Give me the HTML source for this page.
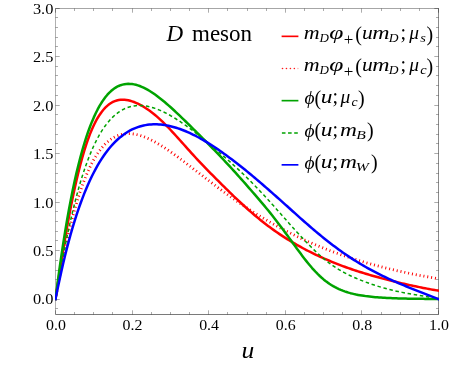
<!DOCTYPE html>
<html><head><meta charset="utf-8"><title>D meson</title>
<style>
html,body{margin:0;padding:0;background:#fff;}
body{width:449px;height:367px;overflow:hidden;font-family:"Liberation Serif",serif;}
svg{display:block;will-change:transform;}
text{font-family:"Liberation Serif",serif;fill:#000;}
.tl{font-size:15.3px;}
.mi{font-size:18px;font-style:italic;}
.ms{font-size:12.5px;font-style:italic;}
.md{font-size:13px;font-style:italic;}
.rm{font-size:20px;}
.rp{font-size:17px;}
.rs{font-size:12px;}
.ti{font-size:23px;font-style:italic;}
.tr{font-size:23px;}
</style></head><body>
<svg width="449" height="367" viewBox="0 0 449 367">
<defs><clipPath id="cp"><rect x="55.0" y="8.5" width="384.0" height="306.0"/></clipPath></defs>
<g stroke="#000" stroke-opacity="0.47" stroke-width="0.7" fill="none">
<line x1="55.50" y1="314.5" x2="55.50" y2="310.3"/>
<line x1="55.50" y1="8.5" x2="55.50" y2="12.7"/>
<line x1="74.50" y1="314.5" x2="74.50" y2="312.0"/>
<line x1="74.50" y1="8.5" x2="74.50" y2="11.0"/>
<line x1="93.50" y1="314.5" x2="93.50" y2="312.0"/>
<line x1="93.50" y1="8.5" x2="93.50" y2="11.0"/>
<line x1="112.50" y1="314.5" x2="112.50" y2="312.0"/>
<line x1="112.50" y1="8.5" x2="112.50" y2="11.0"/>
<line x1="132.50" y1="314.5" x2="132.50" y2="310.3"/>
<line x1="132.50" y1="8.5" x2="132.50" y2="12.7"/>
<line x1="151.50" y1="314.5" x2="151.50" y2="312.0"/>
<line x1="151.50" y1="8.5" x2="151.50" y2="11.0"/>
<line x1="170.50" y1="314.5" x2="170.50" y2="312.0"/>
<line x1="170.50" y1="8.5" x2="170.50" y2="11.0"/>
<line x1="189.50" y1="314.5" x2="189.50" y2="312.0"/>
<line x1="189.50" y1="8.5" x2="189.50" y2="11.0"/>
<line x1="208.50" y1="314.5" x2="208.50" y2="310.3"/>
<line x1="208.50" y1="8.5" x2="208.50" y2="12.7"/>
<line x1="227.50" y1="314.5" x2="227.50" y2="312.0"/>
<line x1="227.50" y1="8.5" x2="227.50" y2="11.0"/>
<line x1="247.50" y1="314.5" x2="247.50" y2="312.0"/>
<line x1="247.50" y1="8.5" x2="247.50" y2="11.0"/>
<line x1="266.50" y1="314.5" x2="266.50" y2="312.0"/>
<line x1="266.50" y1="8.5" x2="266.50" y2="11.0"/>
<line x1="285.50" y1="314.5" x2="285.50" y2="310.3"/>
<line x1="285.50" y1="8.5" x2="285.50" y2="12.7"/>
<line x1="304.50" y1="314.5" x2="304.50" y2="312.0"/>
<line x1="304.50" y1="8.5" x2="304.50" y2="11.0"/>
<line x1="323.50" y1="314.5" x2="323.50" y2="312.0"/>
<line x1="323.50" y1="8.5" x2="323.50" y2="11.0"/>
<line x1="342.50" y1="314.5" x2="342.50" y2="312.0"/>
<line x1="342.50" y1="8.5" x2="342.50" y2="11.0"/>
<line x1="361.50" y1="314.5" x2="361.50" y2="310.3"/>
<line x1="361.50" y1="8.5" x2="361.50" y2="12.7"/>
<line x1="381.50" y1="314.5" x2="381.50" y2="312.0"/>
<line x1="381.50" y1="8.5" x2="381.50" y2="11.0"/>
<line x1="400.50" y1="314.5" x2="400.50" y2="312.0"/>
<line x1="400.50" y1="8.5" x2="400.50" y2="11.0"/>
<line x1="419.50" y1="314.5" x2="419.50" y2="312.0"/>
<line x1="419.50" y1="8.5" x2="419.50" y2="11.0"/>
<line x1="438.50" y1="314.5" x2="438.50" y2="310.3"/>
<line x1="438.50" y1="8.5" x2="438.50" y2="12.7"/>
<line x1="55.5" y1="308.50" x2="58.0" y2="308.50"/>
<line x1="438.5" y1="308.50" x2="436.0" y2="308.50"/>
<line x1="55.5" y1="299.50" x2="59.7" y2="299.50"/>
<line x1="438.5" y1="299.50" x2="434.3" y2="299.50"/>
<line x1="55.5" y1="289.50" x2="58.0" y2="289.50"/>
<line x1="438.5" y1="289.50" x2="436.0" y2="289.50"/>
<line x1="55.5" y1="279.50" x2="58.0" y2="279.50"/>
<line x1="438.5" y1="279.50" x2="436.0" y2="279.50"/>
<line x1="55.5" y1="270.50" x2="58.0" y2="270.50"/>
<line x1="438.5" y1="270.50" x2="436.0" y2="270.50"/>
<line x1="55.5" y1="260.50" x2="58.0" y2="260.50"/>
<line x1="438.5" y1="260.50" x2="436.0" y2="260.50"/>
<line x1="55.5" y1="250.50" x2="59.7" y2="250.50"/>
<line x1="438.5" y1="250.50" x2="434.3" y2="250.50"/>
<line x1="55.5" y1="240.50" x2="58.0" y2="240.50"/>
<line x1="438.5" y1="240.50" x2="436.0" y2="240.50"/>
<line x1="55.5" y1="231.50" x2="58.0" y2="231.50"/>
<line x1="438.5" y1="231.50" x2="436.0" y2="231.50"/>
<line x1="55.5" y1="221.50" x2="58.0" y2="221.50"/>
<line x1="438.5" y1="221.50" x2="436.0" y2="221.50"/>
<line x1="55.5" y1="211.50" x2="58.0" y2="211.50"/>
<line x1="438.5" y1="211.50" x2="436.0" y2="211.50"/>
<line x1="55.5" y1="202.50" x2="59.7" y2="202.50"/>
<line x1="438.5" y1="202.50" x2="434.3" y2="202.50"/>
<line x1="55.5" y1="192.50" x2="58.0" y2="192.50"/>
<line x1="438.5" y1="192.50" x2="436.0" y2="192.50"/>
<line x1="55.5" y1="182.50" x2="58.0" y2="182.50"/>
<line x1="438.5" y1="182.50" x2="436.0" y2="182.50"/>
<line x1="55.5" y1="173.50" x2="58.0" y2="173.50"/>
<line x1="438.5" y1="173.50" x2="436.0" y2="173.50"/>
<line x1="55.5" y1="163.50" x2="58.0" y2="163.50"/>
<line x1="438.5" y1="163.50" x2="436.0" y2="163.50"/>
<line x1="55.5" y1="153.50" x2="59.7" y2="153.50"/>
<line x1="438.5" y1="153.50" x2="434.3" y2="153.50"/>
<line x1="55.5" y1="143.50" x2="58.0" y2="143.50"/>
<line x1="438.5" y1="143.50" x2="436.0" y2="143.50"/>
<line x1="55.5" y1="134.50" x2="58.0" y2="134.50"/>
<line x1="438.5" y1="134.50" x2="436.0" y2="134.50"/>
<line x1="55.5" y1="124.50" x2="58.0" y2="124.50"/>
<line x1="438.5" y1="124.50" x2="436.0" y2="124.50"/>
<line x1="55.5" y1="114.50" x2="58.0" y2="114.50"/>
<line x1="438.5" y1="114.50" x2="436.0" y2="114.50"/>
<line x1="55.5" y1="105.50" x2="59.7" y2="105.50"/>
<line x1="438.5" y1="105.50" x2="434.3" y2="105.50"/>
<line x1="55.5" y1="95.50" x2="58.0" y2="95.50"/>
<line x1="438.5" y1="95.50" x2="436.0" y2="95.50"/>
<line x1="55.5" y1="85.50" x2="58.0" y2="85.50"/>
<line x1="438.5" y1="85.50" x2="436.0" y2="85.50"/>
<line x1="55.5" y1="75.50" x2="58.0" y2="75.50"/>
<line x1="438.5" y1="75.50" x2="436.0" y2="75.50"/>
<line x1="55.5" y1="66.50" x2="58.0" y2="66.50"/>
<line x1="438.5" y1="66.50" x2="436.0" y2="66.50"/>
<line x1="55.5" y1="56.50" x2="59.7" y2="56.50"/>
<line x1="438.5" y1="56.50" x2="434.3" y2="56.50"/>
<line x1="55.5" y1="46.50" x2="58.0" y2="46.50"/>
<line x1="438.5" y1="46.50" x2="436.0" y2="46.50"/>
<line x1="55.5" y1="37.50" x2="58.0" y2="37.50"/>
<line x1="438.5" y1="37.50" x2="436.0" y2="37.50"/>
<line x1="55.5" y1="27.50" x2="58.0" y2="27.50"/>
<line x1="438.5" y1="27.50" x2="436.0" y2="27.50"/>
<line x1="55.5" y1="17.50" x2="58.0" y2="17.50"/>
<line x1="438.5" y1="17.50" x2="436.0" y2="17.50"/>
<line x1="55.5" y1="8.50" x2="59.7" y2="8.50"/>
<line x1="438.5" y1="8.50" x2="434.3" y2="8.50"/>
</g>
<g stroke="#000" stroke-width="1" fill="none">
<line x1="55.5" y1="8.0" x2="55.5" y2="315.0" stroke-opacity="0.31"/>
<line x1="438.5" y1="8.0" x2="438.5" y2="315.0" stroke-opacity="0.46"/>
<line x1="56.0" y1="8.5" x2="438.0" y2="8.5" stroke-opacity="0.35"/>
<line x1="56.0" y1="314.5" x2="438.0" y2="314.5" stroke-opacity="0.52"/>
</g>
<g clip-path="url(#cp)" fill="none" stroke-linejoin="round">
<path d="M55.50,299.10 L57.41,286.30 L59.33,273.84 L61.24,261.70 L63.16,249.92 L65.08,238.54 L66.99,227.59 L68.91,217.09 L70.82,207.06 L72.73,197.52 L74.65,188.47 L76.56,179.93 L78.48,171.89 L80.39,164.36 L82.31,157.33 L84.22,150.81 L86.14,144.77 L88.06,139.21 L89.97,134.11 L91.88,129.46 L93.80,125.23 L95.72,121.41 L97.63,117.98 L99.55,114.91 L101.46,112.19 L103.38,109.78 L105.29,107.67 L107.21,105.85 L109.12,104.29 L111.03,102.99 L112.95,101.92 L114.87,101.08 L116.78,100.44 L118.69,100.00 L120.61,99.74 L122.53,99.66 L124.44,99.72 L126.36,99.94 L128.27,100.29 L130.19,100.76 L132.10,101.34 L134.01,102.02 L135.93,102.80 L137.84,103.67 L139.76,104.62 L141.68,105.65 L143.59,106.77 L145.50,107.96 L147.42,109.23 L149.33,110.58 L151.25,112.00 L153.17,113.48 L155.08,115.04 L157.00,116.67 L158.91,118.37 L160.82,120.13 L162.74,121.95 L164.66,123.83 L166.57,125.76 L168.49,127.74 L170.40,129.76 L172.31,131.81 L174.23,133.89 L176.14,135.99 L178.06,138.11 L179.98,140.24 L181.89,142.38 L183.81,144.53 L185.72,146.67 L187.64,148.81 L189.55,150.94 L191.47,153.07 L193.38,155.18 L195.29,157.27 L197.21,159.34 L199.12,161.39 L201.04,163.41 L202.96,165.42 L204.87,167.41 L206.78,169.38 L208.70,171.33 L210.62,173.28 L212.53,175.21 L214.45,177.13 L216.36,179.05 L218.28,180.96 L220.19,182.87 L222.10,184.77 L224.02,186.67 L225.94,188.56 L227.85,190.44 L229.77,192.31 L231.68,194.18 L233.59,196.03 L235.51,197.86 L237.43,199.68 L239.34,201.49 L241.25,203.27 L243.17,205.04 L245.09,206.79 L247.00,208.51 L248.91,210.22 L250.83,211.90 L252.75,213.56 L254.66,215.20 L256.58,216.81 L258.49,218.39 L260.40,219.95 L262.32,221.49 L264.24,223.00 L266.15,224.48 L268.07,225.93 L269.98,227.36 L271.89,228.77 L273.81,230.14 L275.73,231.49 L277.64,232.82 L279.55,234.12 L281.47,235.40 L283.38,236.65 L285.30,237.88 L287.22,239.09 L289.13,240.28 L291.04,241.44 L292.96,242.58 L294.88,243.70 L296.79,244.80 L298.71,245.89 L300.62,246.95 L302.53,247.99 L304.45,249.01 L306.37,250.02 L308.28,251.01 L310.20,251.98 L312.11,252.93 L314.03,253.86 L315.94,254.78 L317.86,255.68 L319.77,256.57 L321.69,257.44 L323.60,258.30 L325.51,259.14 L327.43,259.96 L329.34,260.77 L331.26,261.57 L333.18,262.35 L335.09,263.12 L337.00,263.87 L338.92,264.62 L340.83,265.34 L342.75,266.06 L344.67,266.76 L346.58,267.45 L348.50,268.13 L350.41,268.80 L352.32,269.45 L354.24,270.10 L356.16,270.73 L358.07,271.35 L359.99,271.96 L361.90,272.56 L363.81,273.16 L365.73,273.74 L367.65,274.31 L369.56,274.88 L371.48,275.43 L373.39,275.98 L375.31,276.52 L377.22,277.06 L379.13,277.58 L381.05,278.10 L382.96,278.61 L384.88,279.12 L386.80,279.62 L388.71,280.11 L390.62,280.60 L392.54,281.07 L394.45,281.55 L396.37,282.01 L398.29,282.48 L400.20,282.93 L402.12,283.38 L404.03,283.82 L405.94,284.26 L407.86,284.69 L409.78,285.11 L411.69,285.53 L413.61,285.94 L415.52,286.34 L417.44,286.74 L419.35,287.14 L421.27,287.52 L423.18,287.90 L425.09,288.28 L427.01,288.64 L428.93,289.00 L430.84,289.36 L432.75,289.70 L434.67,290.04 L436.58,290.38 L438.50,290.70" stroke="#ff0000" stroke-width="2.5" stroke-linecap="square"/>
<path d="M55.50,299.10 L57.41,288.37 L59.33,278.00 L61.24,267.96 L63.16,258.25 L65.08,248.87 L66.99,240.13 L68.91,231.88 L70.82,224.06 L72.73,216.66 L74.65,209.67 L76.56,203.07 L78.48,196.86 L80.39,191.03 L82.31,185.56 L84.22,180.44 L86.14,175.66 L88.06,171.21 L89.97,167.08 L91.88,163.25 L93.80,159.72 L95.72,156.46 L97.63,153.48 L99.55,150.75 L101.46,148.27 L103.38,146.02 L105.29,144.00 L107.21,142.19 L109.12,140.59 L111.03,139.17 L112.95,137.94 L114.87,136.88 L116.78,135.99 L118.69,135.25 L120.61,134.66 L122.53,134.20 L124.44,133.88 L126.36,133.69 L128.27,133.62 L130.19,133.65 L132.10,133.80 L134.01,134.05 L135.93,134.39 L137.84,134.83 L139.76,135.34 L141.68,135.94 L143.59,136.62 L145.50,137.36 L147.42,138.17 L149.33,139.04 L151.25,139.98 L153.17,140.96 L155.08,142.00 L157.00,143.08 L158.91,144.21 L160.82,145.37 L162.74,146.57 L164.66,147.81 L166.57,149.08 L168.49,150.38 L170.40,151.70 L172.31,153.05 L174.23,154.42 L176.14,155.80 L178.06,157.21 L179.98,158.63 L181.89,160.06 L183.81,161.50 L185.72,162.95 L187.64,164.41 L189.55,165.88 L191.47,167.35 L193.38,168.82 L195.29,170.30 L197.21,171.77 L199.12,173.25 L201.04,174.72 L202.96,176.19 L204.87,177.66 L206.78,179.12 L208.70,180.58 L210.62,182.04 L212.53,183.49 L214.45,184.93 L216.36,186.36 L218.28,187.79 L220.19,189.20 L222.10,190.61 L224.02,192.01 L225.94,193.40 L227.85,194.78 L229.77,196.15 L231.68,197.51 L233.59,198.86 L235.51,200.20 L237.43,201.52 L239.34,202.84 L241.25,204.14 L243.17,205.43 L245.09,206.71 L247.00,207.97 L248.91,209.22 L250.83,210.46 L252.75,211.69 L254.66,212.91 L256.58,214.11 L258.49,215.30 L260.40,216.47 L262.32,217.63 L264.24,218.78 L266.15,219.92 L268.07,221.04 L269.98,222.16 L271.89,223.25 L273.81,224.34 L275.73,225.41 L277.64,226.47 L279.55,227.51 L281.47,228.54 L283.38,229.56 L285.30,230.57 L287.22,231.57 L289.13,232.55 L291.04,233.52 L292.96,234.47 L294.88,235.42 L296.79,236.35 L298.71,237.27 L300.62,238.18 L302.53,239.07 L304.45,239.96 L306.37,240.83 L308.28,241.69 L310.20,242.54 L312.11,243.37 L314.03,244.20 L315.94,245.01 L317.86,245.81 L319.77,246.61 L321.69,247.39 L323.60,248.16 L325.51,248.92 L327.43,249.66 L329.34,250.40 L331.26,251.13 L333.18,251.85 L335.09,252.55 L337.00,253.25 L338.92,253.94 L340.83,254.62 L342.75,255.28 L344.67,255.94 L346.58,256.59 L348.50,257.23 L350.41,257.86 L352.32,258.48 L354.24,259.09 L356.16,259.69 L358.07,260.29 L359.99,260.87 L361.90,261.45 L363.81,262.02 L365.73,262.58 L367.65,263.13 L369.56,263.67 L371.48,264.21 L373.39,264.74 L375.31,265.26 L377.22,265.77 L379.13,266.27 L381.05,266.77 L382.96,267.26 L384.88,267.74 L386.80,268.22 L388.71,268.69 L390.62,269.15 L392.54,269.60 L394.45,270.05 L396.37,270.49 L398.29,270.93 L400.20,271.35 L402.12,271.78 L404.03,272.19 L405.94,272.60 L407.86,273.00 L409.78,273.40 L411.69,273.79 L413.61,274.17 L415.52,274.55 L417.44,274.93 L419.35,275.29 L421.27,275.66 L423.18,276.01 L425.09,276.37 L427.01,276.71 L428.93,277.05 L430.84,277.39 L432.75,277.72 L434.67,278.04 L436.58,278.37 L438.50,278.68" stroke="#ff0000" stroke-width="2.8" stroke-dasharray="1.0 2.9"/>
<path d="M55.50,299.10 L57.41,284.17 L59.33,270.02 L61.24,256.62 L63.16,243.91 L65.08,231.88 L66.99,220.51 L68.91,209.76 L70.82,199.62 L72.73,190.07 L74.65,181.07 L76.56,172.61 L78.48,164.67 L80.39,157.22 L82.31,150.25 L84.22,143.74 L86.14,137.66 L88.06,132.01 L89.97,126.75 L91.88,121.89 L93.80,117.39 L95.72,113.24 L97.63,109.44 L99.55,105.95 L101.46,102.78 L103.38,99.90 L105.29,97.30 L107.21,94.97 L109.12,92.90 L111.03,91.07 L112.95,89.47 L114.87,88.10 L116.78,86.94 L118.69,85.97 L120.61,85.20 L122.53,84.61 L124.44,84.19 L126.36,83.94 L128.27,83.84 L130.19,83.88 L132.10,84.06 L134.01,84.38 L135.93,84.82 L137.84,85.37 L139.76,86.03 L141.68,86.80 L143.59,87.66 L145.50,88.62 L147.42,89.66 L149.33,90.78 L151.25,91.98 L153.17,93.24 L155.08,94.57 L157.00,95.96 L158.91,97.41 L160.82,98.91 L162.74,100.46 L164.66,102.05 L166.57,103.68 L168.49,105.34 L170.40,107.04 L172.31,108.78 L174.23,110.53 L176.14,112.32 L178.06,114.12 L179.98,115.94 L181.89,117.78 L183.81,119.64 L185.72,121.50 L187.64,123.38 L189.55,125.26 L191.47,127.15 L193.38,129.05 L195.29,130.94 L197.21,132.84 L199.12,134.75 L201.04,136.66 L202.96,138.57 L204.87,140.49 L206.78,142.42 L208.70,144.36 L210.62,146.31 L212.53,148.27 L214.45,150.23 L216.36,152.21 L218.28,154.20 L220.19,156.21 L222.10,158.22 L224.02,160.25 L225.94,162.30 L227.85,164.35 L229.77,166.42 L231.68,168.50 L233.59,170.60 L235.51,172.71 L237.43,174.83 L239.34,176.97 L241.25,179.11 L243.17,181.27 L245.09,183.44 L247.00,185.62 L248.91,187.81 L250.83,190.01 L252.75,192.22 L254.66,194.44 L256.58,196.66 L258.49,198.89 L260.40,201.13 L262.32,203.38 L264.24,205.66 L266.15,207.96 L268.07,210.29 L269.98,212.65 L271.89,215.04 L273.81,217.47 L275.73,219.92 L277.64,222.41 L279.55,224.93 L281.47,227.48 L283.38,230.05 L285.30,232.64 L287.22,235.25 L289.13,237.88 L291.04,240.51 L292.96,243.15 L294.88,245.78 L296.79,248.40 L298.71,251.01 L300.62,253.59 L302.53,256.14 L304.45,258.65 L306.37,261.11 L308.28,263.50 L310.20,265.82 L312.11,268.05 L314.03,270.19 L315.94,272.24 L317.86,274.18 L319.77,276.02 L321.69,277.76 L323.60,279.40 L325.51,280.93 L327.43,282.37 L329.34,283.71 L331.26,284.95 L333.18,286.10 L335.09,287.17 L337.00,288.16 L338.92,289.07 L340.83,289.91 L342.75,290.68 L344.67,291.39 L346.58,292.03 L348.50,292.63 L350.41,293.17 L352.32,293.66 L354.24,294.11 L356.16,294.53 L358.07,294.90 L359.99,295.25 L361.90,295.57 L363.81,295.86 L365.73,296.12 L367.65,296.36 L369.56,296.59 L371.48,296.79 L373.39,296.98 L375.31,297.15 L377.22,297.31 L379.13,297.46 L381.05,297.59 L382.96,297.71 L384.88,297.82 L386.80,297.93 L388.71,298.02 L390.62,298.11 L392.54,298.19 L394.45,298.26 L396.37,298.33 L398.29,298.39 L400.20,298.45 L402.12,298.51 L404.03,298.55 L405.94,298.60 L407.86,298.64 L409.78,298.68 L411.69,298.71 L413.61,298.75 L415.52,298.77 L417.44,298.80 L419.35,298.83 L421.27,298.85 L423.18,298.87 L425.09,298.89 L427.01,298.91 L428.93,298.92 L430.84,298.94 L432.75,298.95 L434.67,298.97 L436.58,298.98 L438.50,298.99" stroke="#00a300" stroke-width="2.5" stroke-linecap="square"/>
<path d="M55.50,299.10 L57.41,287.82 L59.33,276.91 L61.24,266.37 L63.16,256.17 L65.08,246.33 L66.99,236.92 L68.91,227.90 L70.82,219.30 L72.73,211.10 L74.65,203.30 L76.56,195.91 L78.48,188.92 L80.39,182.31 L82.31,176.07 L84.22,170.20 L86.14,164.67 L88.06,159.49 L89.97,154.62 L91.88,150.05 L93.80,145.79 L95.72,141.80 L97.63,138.09 L99.55,134.65 L101.46,131.45 L103.38,128.49 L105.29,125.76 L107.21,123.24 L109.12,120.94 L111.03,118.82 L112.95,116.90 L114.87,115.15 L116.78,113.57 L118.69,112.15 L120.61,110.89 L122.53,109.78 L124.44,108.81 L126.36,107.98 L128.27,107.28 L130.19,106.70 L132.10,106.25 L134.01,105.90 L135.93,105.67 L137.84,105.55 L139.76,105.52 L141.68,105.59 L143.59,105.75 L145.50,106.00 L147.42,106.33 L149.33,106.74 L151.25,107.22 L153.17,107.78 L155.08,108.41 L157.00,109.10 L158.91,109.86 L160.82,110.67 L162.74,111.54 L164.66,112.47 L166.57,113.44 L168.49,114.47 L170.40,115.53 L172.31,116.65 L174.23,117.80 L176.14,119.00 L178.06,120.23 L179.98,121.49 L181.89,122.79 L183.81,124.12 L185.72,125.48 L187.64,126.87 L189.55,128.28 L191.47,129.71 L193.38,131.17 L195.29,132.65 L197.21,134.15 L199.12,135.67 L201.04,137.21 L202.96,138.76 L204.87,140.33 L206.78,141.91 L208.70,143.50 L210.62,145.11 L212.53,146.72 L214.45,148.35 L216.36,149.98 L218.28,151.62 L220.19,153.26 L222.10,154.92 L224.02,156.59 L225.94,158.26 L227.85,159.95 L229.77,161.66 L231.68,163.38 L233.59,165.11 L235.51,166.86 L237.43,168.63 L239.34,170.42 L241.25,172.22 L243.17,174.05 L245.09,175.89 L247.00,177.76 L248.91,179.65 L250.83,181.55 L252.75,183.48 L254.66,185.43 L256.58,187.40 L258.49,189.40 L260.40,191.41 L262.32,193.45 L264.24,195.50 L266.15,197.58 L268.07,199.68 L269.98,201.80 L271.89,203.93 L273.81,206.08 L275.73,208.23 L277.64,210.40 L279.55,212.56 L281.47,214.73 L283.38,216.91 L285.30,219.07 L287.22,221.24 L289.13,223.39 L291.04,225.54 L292.96,227.68 L294.88,229.80 L296.79,231.91 L298.71,234.00 L300.62,236.07 L302.53,238.12 L304.45,240.15 L306.37,242.15 L308.28,244.13 L310.20,246.07 L312.11,247.99 L314.03,249.86 L315.94,251.70 L317.86,253.49 L319.77,255.23 L321.69,256.92 L323.60,258.55 L325.51,260.13 L327.43,261.65 L329.34,263.12 L331.26,264.53 L333.18,265.88 L335.09,267.17 L337.00,268.41 L338.92,269.59 L340.83,270.72 L342.75,271.80 L344.67,272.83 L346.58,273.83 L348.50,274.79 L350.41,275.71 L352.32,276.60 L354.24,277.46 L356.16,278.30 L358.07,279.11 L359.99,279.90 L361.90,280.66 L363.81,281.40 L365.73,282.12 L367.65,282.82 L369.56,283.50 L371.48,284.16 L373.39,284.80 L375.31,285.42 L377.22,286.02 L379.13,286.61 L381.05,287.18 L382.96,287.73 L384.88,288.27 L386.80,288.79 L388.71,289.30 L390.62,289.79 L392.54,290.26 L394.45,290.71 L396.37,291.15 L398.29,291.57 L400.20,291.98 L402.12,292.37 L404.03,292.75 L405.94,293.11 L407.86,293.47 L409.78,293.81 L411.69,294.14 L413.61,294.47 L415.52,294.79 L417.44,295.11 L419.35,295.42 L421.27,295.74 L423.18,296.06 L425.09,296.38 L427.01,296.71 L428.93,297.05 L430.84,297.41 L432.75,297.79 L434.67,298.19 L436.58,298.63 L438.50,299.10" stroke="#00a300" stroke-width="1.5" stroke-dasharray="3.5 2.7"/>
<path d="M55.50,299.10 L57.41,289.72 L59.33,280.68 L61.24,271.95 L63.16,263.55 L65.08,255.45 L66.99,247.86 L68.91,240.63 L70.82,233.72 L72.73,227.14 L74.65,220.86 L76.56,214.88 L78.48,209.18 L80.39,203.75 L82.31,198.58 L84.22,193.66 L86.14,188.98 L88.06,184.53 L89.97,180.30 L91.88,176.29 L93.80,172.48 L95.72,168.87 L97.63,165.45 L99.55,162.22 L101.46,159.15 L103.38,156.26 L105.29,153.53 L107.21,150.96 L109.12,148.54 L111.03,146.26 L112.95,144.13 L114.87,142.13 L116.78,140.26 L118.69,138.52 L120.61,136.89 L122.53,135.39 L124.44,134.00 L126.36,132.71 L128.27,131.53 L130.19,130.46 L132.10,129.48 L134.01,128.59 L135.93,127.80 L137.84,127.10 L139.76,126.48 L141.68,125.94 L143.59,125.49 L145.50,125.11 L147.42,124.80 L149.33,124.57 L151.25,124.41 L153.17,124.32 L155.08,124.29 L157.00,124.32 L158.91,124.42 L160.82,124.58 L162.74,124.79 L164.66,125.06 L166.57,125.39 L168.49,125.76 L170.40,126.19 L172.31,126.67 L174.23,127.19 L176.14,127.76 L178.06,128.38 L179.98,129.04 L181.89,129.74 L183.81,130.49 L185.72,131.27 L187.64,132.09 L189.55,132.95 L191.47,133.85 L193.38,134.78 L195.29,135.74 L197.21,136.74 L199.12,137.77 L201.04,138.83 L202.96,139.93 L204.87,141.05 L206.78,142.19 L208.70,143.37 L210.62,144.57 L212.53,145.80 L214.45,147.06 L216.36,148.33 L218.28,149.63 L220.19,150.96 L222.10,152.30 L224.02,153.66 L225.94,155.05 L227.85,156.45 L229.77,157.88 L231.68,159.32 L233.59,160.78 L235.51,162.25 L237.43,163.74 L239.34,165.24 L241.25,166.76 L243.17,168.30 L245.09,169.84 L247.00,171.40 L248.91,172.97 L250.83,174.56 L252.75,176.15 L254.66,177.76 L256.58,179.37 L258.49,181.00 L260.40,182.64 L262.32,184.28 L264.24,185.94 L266.15,187.60 L268.07,189.27 L269.98,190.95 L271.89,192.64 L273.81,194.33 L275.73,196.02 L277.64,197.72 L279.55,199.43 L281.47,201.14 L283.38,202.85 L285.30,204.57 L287.22,206.29 L289.13,208.01 L291.04,209.73 L292.96,211.45 L294.88,213.17 L296.79,214.89 L298.71,216.60 L300.62,218.31 L302.53,220.01 L304.45,221.70 L306.37,223.39 L308.28,225.06 L310.20,226.72 L312.11,228.37 L314.03,230.01 L315.94,231.63 L317.86,233.23 L319.77,234.82 L321.69,236.39 L323.60,237.95 L325.51,239.48 L327.43,241.00 L329.34,242.50 L331.26,243.97 L333.18,245.43 L335.09,246.87 L337.00,248.29 L338.92,249.68 L340.83,251.06 L342.75,252.41 L344.67,253.74 L346.58,255.05 L348.50,256.34 L350.41,257.61 L352.32,258.85 L354.24,260.08 L356.16,261.28 L358.07,262.46 L359.99,263.63 L361.90,264.77 L363.81,265.89 L365.73,266.99 L367.65,268.07 L369.56,269.13 L371.48,270.17 L373.39,271.19 L375.31,272.20 L377.22,273.19 L379.13,274.16 L381.05,275.11 L382.96,276.05 L384.88,276.97 L386.80,277.88 L388.71,278.78 L390.62,279.65 L392.54,280.52 L394.45,281.37 L396.37,282.21 L398.29,283.04 L400.20,283.86 L402.12,284.67 L404.03,285.47 L405.94,286.25 L407.86,287.04 L409.78,287.81 L411.69,288.58 L413.61,289.34 L415.52,290.10 L417.44,290.85 L419.35,291.60 L421.27,292.34 L423.18,293.09 L425.09,293.83 L427.01,294.57 L428.93,295.32 L430.84,296.07 L432.75,296.82 L434.67,297.57 L436.58,298.33 L438.50,299.10" stroke="#0000ff" stroke-width="2.5" stroke-linecap="square"/>
</g>
<text class="tl" transform="translate(53.4 304.40) scale(1.07 1)" text-anchor="end">0.0</text>
<text class="tl" transform="translate(53.4 255.97) scale(1.07 1)" text-anchor="end">0.5</text>
<text class="tl" transform="translate(53.4 207.53) scale(1.07 1)" text-anchor="end">1.0</text>
<text class="tl" transform="translate(53.4 159.10) scale(1.07 1)" text-anchor="end">1.5</text>
<text class="tl" transform="translate(53.4 110.66) scale(1.07 1)" text-anchor="end">2.0</text>
<text class="tl" transform="translate(53.4 62.23) scale(1.07 1)" text-anchor="end">2.5</text>
<text class="tl" transform="translate(53.4 13.79) scale(1.07 1)" text-anchor="end">3.0</text>
<text class="tl" transform="translate(55.90 329.6) scale(1.04 1)" text-anchor="middle">0.0</text>
<text class="tl" transform="translate(132.50 329.6) scale(1.04 1)" text-anchor="middle">0.2</text>
<text class="tl" transform="translate(209.10 329.6) scale(1.04 1)" text-anchor="middle">0.4</text>
<text class="tl" transform="translate(285.70 329.6) scale(1.04 1)" text-anchor="middle">0.6</text>
<text class="tl" transform="translate(362.30 329.6) scale(1.04 1)" text-anchor="middle">0.8</text>
<text class="tl" transform="translate(438.90 329.6) scale(1.04 1)" text-anchor="middle">1.0</text>
<text class="ti" x="166.6" y="40.8">D</text>
<text class="tr" x="192" y="40.8">meson</text>
<text class="ti" style="font-size:22.4px" transform="translate(241.4 357.6) scale(1.14 1)">u</text>
<line x1="281.6" y1="36.35" x2="298.4" y2="36.35" stroke="#ff0000" stroke-width="1.65"/>
<circle cx="282.5" cy="68.5" r="0.8" fill="#ff0000" fill-opacity="0.9"/>
<circle cx="286.45" cy="68.5" r="0.8" fill="#ff0000" fill-opacity="0.9"/>
<circle cx="290.4" cy="68.5" r="0.8" fill="#ff0000" fill-opacity="0.9"/>
<circle cx="294.35" cy="68.5" r="0.8" fill="#ff0000" fill-opacity="0.9"/>
<circle cx="297.9" cy="68.5" r="0.8" fill="#ff0000" fill-opacity="0.3"/>
<line x1="281.6" y1="100.65" x2="298.4" y2="100.65" stroke="#00a300" stroke-width="1.65"/>
<line x1="281.9" y1="132.9" x2="298.4" y2="132.9" stroke="#00a300" stroke-width="1.5" stroke-dasharray="3.6 2.55"/>
<line x1="281.6" y1="164.85" x2="298.4" y2="164.85" stroke="#0000ff" stroke-width="1.65"/>
<text class="mi" transform="translate(303.8 39.0) scale(1.22 1)">m</text>
<text class="md" x="319.6" y="42.2">D</text>
<text class="mi" transform="translate(329.2 39.0) scale(1.42 1)">φ</text>
<text class="rp" x="343.8" y="44.6">+</text>
<text class="rm" x="355.2" y="40.6">(</text>
<text class="mi" transform="translate(362.0 39.0) scale(1.2 1)">u</text>
<text class="mi" transform="translate(372.2 39.0) scale(1.33 1)">m</text>
<text class="md" transform="translate(388.8 42.2) scale(1.04 1)">D</text>
<text class="rm" x="400.4" y="39.0">;</text>
<text class="mi" transform="translate(409.2 39.0) scale(1.08 1)">μ</text>
<text class="ms" transform="translate(420.2 42.0) scale(1.15 1)">s</text>
<text class="rm" x="426.6" y="40.6">)</text>
<text class="mi" transform="translate(303.8 71.2) scale(1.22 1)">m</text>
<text class="md" x="319.6" y="74.4">D</text>
<text class="mi" transform="translate(329.2 71.2) scale(1.42 1)">φ</text>
<text class="rp" x="343.8" y="76.8">+</text>
<text class="rm" x="355.2" y="72.8">(</text>
<text class="mi" transform="translate(362.0 71.2) scale(1.2 1)">u</text>
<text class="mi" transform="translate(372.2 71.2) scale(1.33 1)">m</text>
<text class="md" transform="translate(388.8 74.4) scale(1.04 1)">D</text>
<text class="rm" x="400.4" y="71.2">;</text>
<text class="mi" transform="translate(409.2 71.2) scale(1.08 1)">μ</text>
<text class="ms" transform="translate(420.2 74.2) scale(1.15 1)">c</text>
<text class="rm" x="426.6" y="72.8">)</text>
<text class="mi" transform="translate(304.6 104.4) scale(1.08 1)">ϕ</text>
<text class="rm" x="314.6" y="105.0">(</text>
<text class="mi" transform="translate(320.8 103.4) scale(1.3 1)">u</text>
<text class="rm" x="332.4" y="103.4">;</text>
<text class="mi" transform="translate(340.6 103.4) scale(1.08 1)">μ</text>
<text class="ms" transform="translate(351.6 106.4) scale(1.1 1)">c</text>
<text class="rm" x="358.0" y="105.0">)</text>
<text class="mi" transform="translate(304.6 136.6) scale(1.08 1)">ϕ</text>
<text class="rm" x="314.6" y="137.2">(</text>
<text class="mi" transform="translate(320.8 135.6) scale(1.3 1)">u</text>
<text class="rm" x="332.4" y="135.6">;</text>
<text class="mi" transform="translate(340.0 135.6) scale(1.3 1)">m</text>
<text class="md" transform="translate(356.2 138.79999999999998) scale(1.2 1)">B</text>
<text class="rm" x="367.0" y="137.2">)</text>
<text class="mi" transform="translate(304.6 168.7) scale(1.08 1)">ϕ</text>
<text class="rm" x="314.6" y="169.29999999999998">(</text>
<text class="mi" transform="translate(320.8 167.7) scale(1.3 1)">u</text>
<text class="rm" x="332.4" y="167.7">;</text>
<text class="mi" transform="translate(340.0 167.7) scale(1.3 1)">m</text>
<text class="md" transform="translate(355.8 170.89999999999998) scale(1.2 1)">W</text>
<text class="rm" x="371.0" y="169.29999999999998">)</text>
</svg>
</body></html>
